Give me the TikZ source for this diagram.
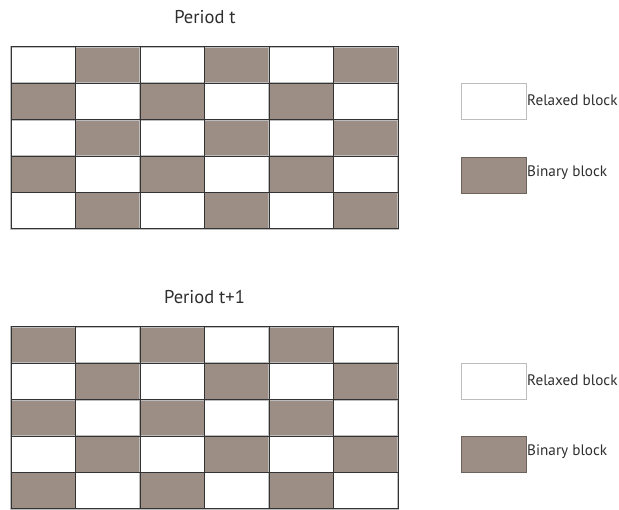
\documentclass[tikz,border=0pt]{standalone}
\usepackage{fontspec}
\setmainfont{PT Sans}
\definecolor{binfill}{HTML}{9C8D85}
\definecolor{gridline}{HTML}{333333}
\definecolor{halo}{HTML}{BDBDBD}
\definecolor{txt}{HTML}{2E2E2E}
\tikzset{
  title/.style={font=\fontsize{18.5}{22}\selectfont, text=txt, inner sep=0pt},
  legtext/.style={font=\fontsize{15.2}{18}\selectfont, text=txt, anchor=west, inner sep=0pt},
  relbox/.style={draw=halo, line width=1pt, fill=white},
  binbox/.style={draw=binfill!70!black, line width=0.6pt, fill=binfill},
  gridlines/.style={draw=gridline, line width=1pt},
  gridhalo/.style={draw=halo, line width=2.4pt}
}
\begin{document}
\begin{tikzpicture}[x=1pt,y=-1pt]
\useasboundingbox (0,0) rectangle (619,510);
% ---- grids ----
\foreach \top/\off in {47/0, 327/1}{
  \pgfmathsetmacro{\cw}{387/6}
  \pgfmathsetmacro{\rh}{182/5}
  \foreach \r in {0,...,4}{
    \foreach \c in {0,...,5}{
      \pgfmathtruncatemacro{\parity}{mod(\r+\c+\off,2)}
      \ifnum\parity=1
        \fill[binfill] (11+\c*\cw, \top+\r*\rh) rectangle ++(\cw,\rh);
      \fi
    }
  }
  \draw[gridhalo] (11,\top) rectangle ++(387,182);
  \foreach \c in {1,...,5}{ \draw[gridhalo, line width=1.8pt] (11+\c*\cw,\top) -- ++(0,182); }
  \foreach \r in {1,...,4}{ \draw[gridhalo, line width=1.8pt] (11,\top+\r*\rh) -- ++(387,0); }
  \foreach \c in {1,...,5}{ \draw[gridlines] (11+\c*\cw,\top) -- ++(0,182); }
  \foreach \r in {1,...,4}{ \draw[gridlines] (11,\top+\r*\rh) -- ++(387,0); }
  \draw[gridlines] (11,\top) rectangle ++(387,182);
}
% ---- titles ----
\node[title] (t1) at (205,17) {Period t};
\node[title] (t2) at (204.5,297) {Period t+1};
% ---- legends ----
\node[relbox, minimum width=65pt, minimum height=36pt, inner sep=0pt] (r1) at (493.5,102) {};
\node[binbox, minimum width=65pt, minimum height=36pt, inner sep=0pt] (b1) at (493.5,175) {};
\node[legtext] (lr1) at (527,100.5) {Relaxed block};
\node[legtext] (lb1) at (527,172.5) {Binary block};
\node[relbox, minimum width=65pt, minimum height=36pt, inner sep=0pt] (r2) at (493.5,381.5) {};
\node[binbox, minimum width=65pt, minimum height=36pt, inner sep=0pt] (b2) at (493.5,454) {};
\node[legtext] (lr2) at (527,380) {Relaxed block};
\node[legtext] (lb2) at (527,452) {Binary block};
\end{tikzpicture}
\end{document}
